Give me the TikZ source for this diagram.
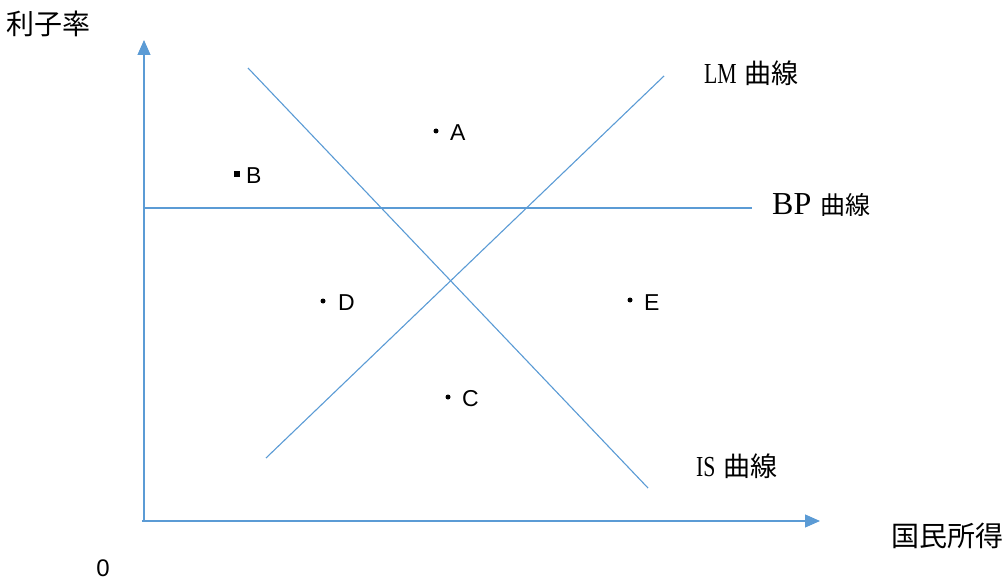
\documentclass[tikz,border=0pt]{standalone}
\usepackage{fontspec}
\usepackage{graphicx}
\setmainfont{Liberation Serif}
\newfontfamily\cjk{Noto Sans CJK JP}
\newfontfamily\sansf{Liberation Sans}
\usetikzlibrary{arrows.meta}
\definecolor{lineblue}{HTML}{5B9BD5}
\newcommand{\narrow}[1]{\scalebox{0.75}[1]{#1}}
\tikzset{
  axis/.style={draw=lineblue, line width=1.1pt, -{Triangle[length=15pt,width=13pt]}},
  curve/.style={draw=lineblue, line width=1.1pt},
  lbl/.style={anchor=west, inner sep=0pt, font=\fontsize{29}{29}\selectfont},
  pt/.style={anchor=west, inner sep=0pt, font=\sansf\fontsize{23}{23}\selectfont},
  rdot/.style={circle, fill=black, inner sep=0pt, minimum size=5pt},
  sdot/.style={rectangle, fill=black, inner sep=0pt, minimum size=5.5pt}
}
\begin{document}
\begin{tikzpicture}[x=1pt,y=-1pt]
\useasboundingbox (0,0) rectangle (1006,580);
% axes
\coordinate (O) at (144,521);
\coordinate (Ox) at (142,521);
\coordinate (Ytip) at (144,40);
\coordinate (Xtip) at (820,521);
\draw[axis] (O) -- (Ytip);
\draw[axis] (Ox) -- (Xtip);
% curves
\coordinate (BP1) at (144,208);
\coordinate (BP2) at (752,208);
\coordinate (IS1) at (248,68);
\coordinate (IS2) at (648,488);
\coordinate (LM1) at (266,458);
\coordinate (LM2) at (664,76);
\draw[curve] (BP1) -- (BP2);
\draw[curve] (IS1) -- (IS2);
\draw[curve] (LM1) -- (LM2);
% labels
\node[lbl, font=\fontsize{28}{28}\selectfont] (ylab) at (6,24) {\cjk 利子率};
\node[lbl, font=\fontsize{28}{28}\selectfont] (xlab) at (891,536) {\cjk 国民所得};
\node[lbl] (lmlab) at (704,73) {\narrow{LM}\hspace{8pt}{\cjk\fontsize{27}{27}\selectfont 曲線}};
\node[lbl, font=\fontsize{32}{32}\selectfont] (bplab) at (772,205) {BP\hspace{9pt}{\cjk\fontsize{25}{25}\selectfont 曲線}};
\node[lbl] (islab) at (696,466) {\narrow{IS}\hspace{8pt}{\cjk\fontsize{27}{27}\selectfont 曲線}};
\node[font=\sansf\fontsize{24}{24}\selectfont, inner sep=0pt] (zero) at (103,568) {0};
% points
\node[rdot] (dA) at (436,131) {};
\node[pt] (A) at (450,133) {A};
\node[sdot] (dB) at (237,174) {};
\node[pt] (B) at (246,176) {B};
\node[rdot] (dD) at (323,301) {};
\node[pt] (D) at (338,303) {D};
\node[rdot] (dE) at (630,300) {};
\node[pt] (E) at (644,303) {E};
\node[rdot] (dC) at (448,397) {};
\node[pt] (C) at (462,399) {C};
\end{tikzpicture}
\end{document}
